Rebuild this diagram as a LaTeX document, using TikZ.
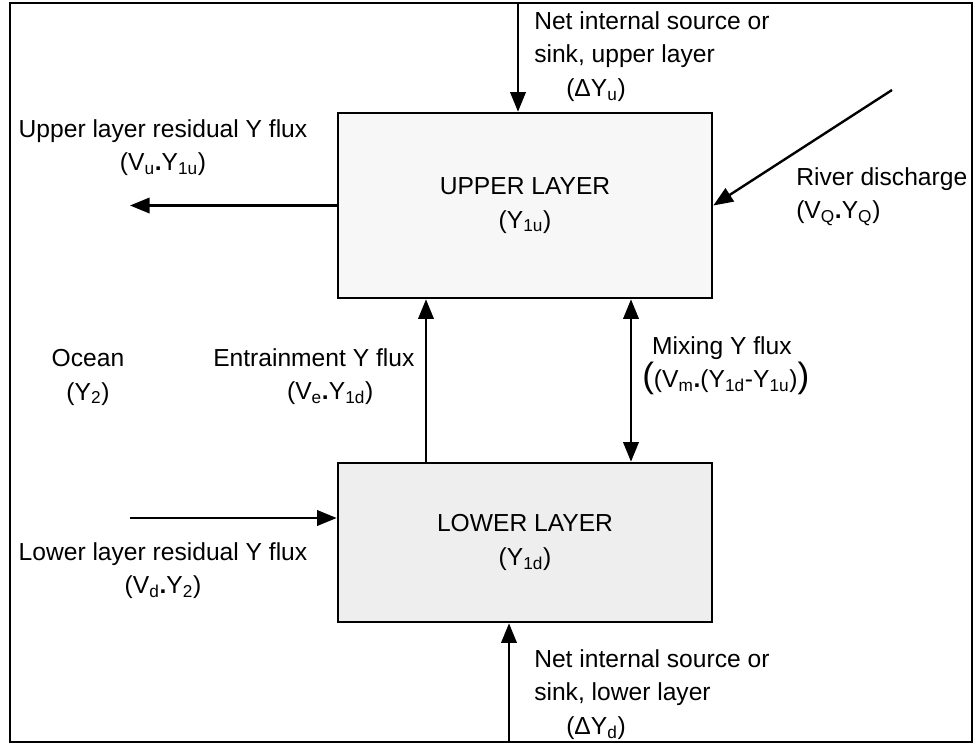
\documentclass[tikz,border=0pt]{standalone}
\usepackage{fontspec}
\setmainfont{Liberation Sans}
\usetikzlibrary{arrows.meta}
\newcommand{\sub}[1]{\textsubscript{#1}}
\newcommand{\pdot}{\textbf{.}}
\newcommand{\bigpar}[1]{{\fontsize{25}{25}\selectfont #1}}

\begin{document}
\begin{tikzpicture}[x=0.025cm, y=-0.025cm,
    every node/.style={font=\fontsize{17.5}{24}\selectfont},
    layer/.style={rectangle, draw, line width=1.8pt, minimum width=9.35cm, align=center},
    lbl/.style={inner sep=0pt, anchor=north west, align=left},
    lblc/.style={inner sep=0pt, anchor=north, align=center},
    frame/.style={draw, line width=2pt},
    arrow/.style={-{Triangle[length=14pt, width=11pt]}, line width=1.7pt},
    dblarrow/.style={{Triangle[length=14pt, width=11pt]}-{Triangle[length=14pt, width=11pt]}, line width=1.7pt}]

  \useasboundingbox (0,0) rectangle (976,744);
  \draw[frame] (10,3) rectangle (972,742);

  % the two layers
  \node[layer, fill=gray!6, minimum height=4.625cm] (upper) at (525,205.5) {UPPER LAYER\\(Y\sub{1u})};
  \node[layer, fill=gray!13, minimum height=3.975cm] (lower) at (525,542.5) {LOWER LAYER\\(Y\sub{1d})};

  % free ends and columns
  \coordinate (srcu)  at (518,3);
  \coordinate (srcd)  at (509,742);
  \coordinate (river) at (892,90);
  \coordinate (outu)  at (130,0);
  \coordinate (ind)   at (130,518);
  \coordinate (ent)   at (426,0);
  \coordinate (mix)   at (631,0);

  \draw[arrow] (srcu) -- (upper.north -| srcu);
  \draw[arrow] (upper.west) -- (upper.west -| outu);
  \draw[arrow] (river) -- (upper.east);
  \draw[arrow] (lower.north -| ent) -- (upper.south -| ent);
  \draw[dblarrow] (upper.south -| mix) -- (lower.north -| mix);
  \draw[arrow] (ind) -- (ind -| lower.west);
  \draw[arrow] (srcd) -- (lower.south -| srcd);

  % labels
  \node[lbl] (netu) at (534,11) {Net internal source or\\sink, upper layer\\\hspace*{1.3em}(ΔY\sub{u})};
  \node[lblc] (resu) at (163,119) {Upper layer residual Y flux\\(V\sub{u}\pdot Y\sub{1u})};
  \node[lbl] (riv) at (796,167) {River discharge\\(V\sub{Q}\pdot Y\sub{Q})};
  \node[lblc] (ocean) at (88,349) {Ocean\\(Y\sub{2})};
  \node[lbl] (entr) at (213,348) {Entrainment Y flux\\\hspace*{3em}(V\sub{e}\pdot Y\sub{1d})};
  \node[lbl] (mixl) at (642,336) {\hspace*{0.4em}Mixing Y flux\\\bigpar{(}(V\sub{m}\pdot(Y\sub{1d}-Y\sub{1u})\bigpar{)}};
  \node[lblc] (resd) at (163,542) {Lower layer residual Y flux\\(V\sub{d}\pdot Y\sub{2})};
  \node[lbl] (netd) at (534,649) {Net internal source or\\sink, lower layer\\\hspace*{1.3em}(ΔY\sub{d})};
\end{tikzpicture}
\end{document}
